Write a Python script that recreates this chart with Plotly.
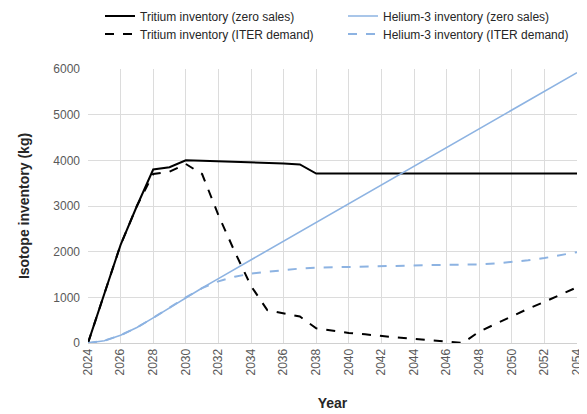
import plotly.graph_objects as go

years = list(range(2024, 2055))

tritium_zero = [0, 1100, 2150, 3000, 3800, 3850, 4000, 3990, 3980, 3970, 3960, 3950, 3930, 3910,
                3710, 3710, 3710, 3710, 3710, 3710, 3710, 3710, 3710, 3710, 3710, 3710, 3710,
                3710, 3710, 3710, 3710]
tritium_iter = [0, 1100, 2150, 3000, 3700, 3750, 3920, 3700, 2800, 2000, 1250, 720, 650, 580,
                320, 270, 220, 190, 150, 120, 90, 60, 30, 0, 250, 420, 580, 750, 900, 1060, 1220]
helium_zero = [0, 50, 170, 340, 550, 770, 1000, 1205, 1410, 1615, 1820, 2025, 2230, 2435,
               2640, 2845, 3050, 3255, 3460, 3665, 3870, 4075, 4280, 4485, 4690, 4895, 5100,
               5305, 5510, 5715, 5920]
helium_iter = [0, 50, 170, 340, 550, 770, 1000, 1200, 1350, 1450, 1520, 1560, 1600, 1630,
               1650, 1660, 1670, 1680, 1690, 1695, 1700, 1705, 1710, 1710, 1720, 1740, 1770,
               1810, 1860, 1920, 1990]

x_ticks = list(range(2024, 2055, 2))
y_ticks = [0, 1000, 2000, 3000, 4000, 5000, 6000]

blue = "#8db3e2"
fig = go.Figure()
fig.add_trace(go.Scatter(x=years, y=tritium_zero, mode="lines", name="Tritium inventory (zero sales)",
                         line=dict(color="black", width=2), legend="legend"))
fig.add_trace(go.Scatter(x=years, y=helium_zero, mode="lines", name="Helium-3 inventory (zero sales)",
                         line=dict(color=blue, width=1.6), legend="legend2"))
fig.add_trace(go.Scatter(x=years, y=tritium_iter, mode="lines", name="Tritium inventory (ITER demand)",
                         line=dict(color="black", width=2, dash="dash"), legend="legend3"))
fig.add_trace(go.Scatter(x=years, y=helium_iter, mode="lines", name="Helium-3 inventory (ITER demand)",
                         line=dict(color=blue, width=2, dash="dash"), legend="legend4"))

W, H = 579, 406
leg_common = dict(orientation="h", xref="container", yref="container", xanchor="left",
                  yanchor="middle", font=dict(size=12, color="#262626"), itemwidth=30,
                  bgcolor="rgba(0,0,0,0)")

fig.update_layout(
    width=W, height=H,
    margin=dict(l=80, r=10, t=61, b=71, autoexpand=False),
    paper_bgcolor="white", plot_bgcolor="white",
    font=dict(family="Liberation Sans, Arial, sans-serif", size=12, color="#595959"),
    showlegend=True,
    legend=dict(x=92 / W, y=1 - 8 / H, **leg_common),
    legend2=dict(x=335 / W, y=1 - 8 / H, **leg_common),
    legend3=dict(x=92 / W, y=1 - 26 / H, **leg_common),
    legend4=dict(x=335 / W, y=1 - 26 / H, **leg_common),
    xaxis=dict(range=[2024, 2054], tickvals=x_ticks, ticktext=[str(t) for t in x_ticks],
               tickangle=-90, showgrid=True, gridcolor="#dcdcdc", gridwidth=1,
               showline=True, linecolor="#d0d0d0", zeroline=False, ticks="",
               tickfont=dict(size=12, color="#595959"),
               title=dict(text="<b>Year</b>", font=dict(size=14, color="#262626"), standoff=23)),
    yaxis=dict(range=[0, 6000], tickvals=y_ticks, showgrid=True, gridcolor="#dcdcdc", gridwidth=1,
               zeroline=False, showline=False, ticks="", ticklabelstandoff=7,
               tickfont=dict(size=12, color="#595959"),
               title=dict(text="<b>Isotope inventory (kg)</b>", font=dict(size=14, color="#262626"), standoff=20)),
)

fig.write_html("out.html")
